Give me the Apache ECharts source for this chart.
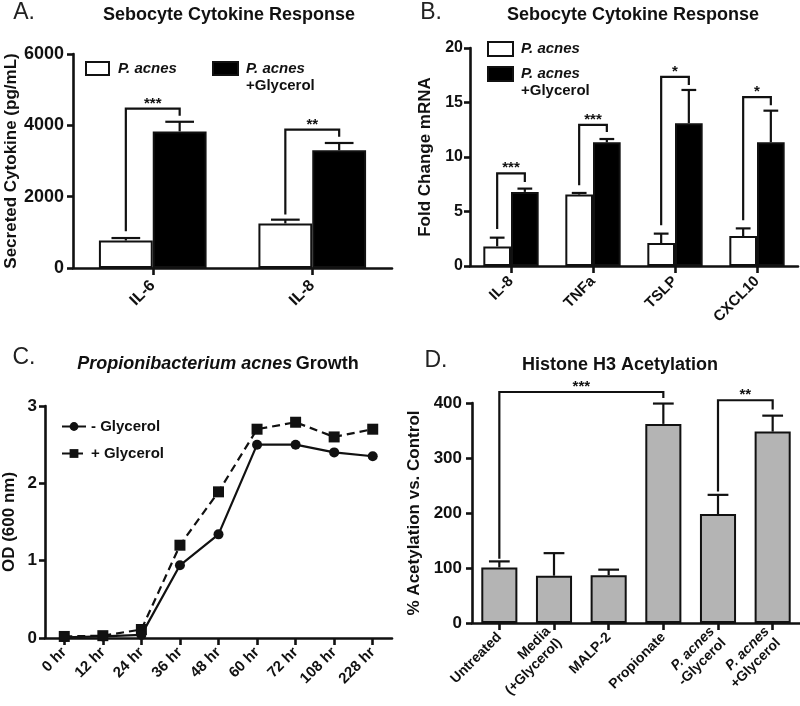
<!DOCTYPE html>
<html><head><meta charset="utf-8">
<script src="https://cdn.jsdelivr.net/npm/echarts@6/dist/echarts.min.js"></script>
<style>html,body{margin:0;padding:0;background:#fff}#c{width:800px;height:706px}</style>
</head><body><div id="c"></div>
<script>
// ---- Panel A ----
const aCats = ['IL-6', 'IL-8'];
const aPacnes = [770, 1250];
const aPacnesErr = [70, 105];
const aPacnesGly = [3830, 3300];
const aPacnesGlyErr = [270, 205];
const aBrackets = [[0, 1030, 4470, 4270], [1, 1500, 3880, 3680]];
const aStars = ['***', '**'];
const aTicks = { min: 0, max: 6000, interval: 2000 };
// ---- Panel B ----
const bCats = ['IL-8', 'TNFa', 'TSLP', 'CXCL10'];
const bPacnes = [1.8, 6.55, 2.1, 2.75];
const bPacnesErr = [0.8, 0.15, 0.87, 0.7];
const bPacnesGly = [6.8, 11.35, 13.1, 11.35];
const bPacnesGlyErr = [0.3, 0.3, 3.05, 2.9];
const bBrackets = [[0, 3.4, 8.5, 7.7], [1, 7.4, 12.95, 12.3], [2, 3.75, 17.35, 16.6], [3, 4.2, 15.5, 14.75]];
const bStars = ['***', '***', '*', '*'];
const bTicks = { min: 0, max: 20, interval: 5 };
// ---- Panel C ----
const cCats = ['0 hr', '12 hr', '24 hr', '36 hr', '48 hr', '60 hr', '72 hr', '108 hr', '228 hr'];
const cMinus = [0.01, 0.02, 0.04, 0.94, 1.34, 2.50, 2.50, 2.40, 2.35];
const cPlus = [0.02, 0.03, 0.11, 1.20, 1.89, 2.70, 2.79, 2.60, 2.70];
const cTicks = { min: 0, max: 3, interval: 1 };
// ---- Panel D ----
const dCats = ['Untreated', 'Media\n(+Glycerol)', 'MALP-2', 'Propionate', 'P. acnes\n-Glycerol', 'P. acnes\n+Glycerol'];
const dVals = [101, 86, 87, 362, 198, 348];
const dErr = [11, 41, 10, 37, 35, 29];
const dBrackets = [[0, 117, 420, 3, 409], [4, 239, 405, 5, 388]];
const dStars = ['***', '**'];
const dTicks = { min: 0, max: 400, interval: 100 };

const FONT = "'Liberation Sans', Arial, Helvetica, sans-serif";
const BLACK = '#111';
const AXW = 2.6;

function yAxisCfg(gi, ticks, name, nameGap, labelSize, margin) {
  return {
    gridIndex: gi, type: 'value', min: ticks.min, max: ticks.max, interval: ticks.interval,
    axisLine: { show: true, lineStyle: { color: BLACK, width: AXW } },
    axisTick: { show: true, length: 6, lineStyle: { color: BLACK, width: AXW } },
    splitLine: { show: false },
    axisLabel: { color: BLACK, fontFamily: FONT, fontWeight: 'bold', fontSize: labelSize, margin: margin,
      formatter: function (v) { return String(v); } },
    name: name, nameLocation: 'middle', nameGap: nameGap,
    nameTextStyle: { color: BLACK, fontFamily: FONT, fontWeight: 'bold', fontSize: 17 }
  };
}
function xAxisCfg(gi, cats, labelSize, margin, extraLabel) {
  return {
    gridIndex: gi, type: 'category', data: cats, boundaryGap: true,
    axisLine: { show: true, onZero: true, lineStyle: { color: BLACK, width: AXW } },
    axisTick: { show: true, alignWithLabel: true, length: 7, lineStyle: { color: BLACK, width: AXW } },
    axisLabel: Object.assign({ color: BLACK, fontFamily: FONT, fontWeight: 'bold', fontSize: labelSize, rotate: 45, margin: margin, interval: 0 }, extraLabel || {}),
    splitLine: { show: false }
  };
}

// error bar series: offsetFrac = bar-centre offset as fraction of band, capFrac = half cap width fraction
function errSeries(gi, vals, errs, offsetFrac, capFrac) {
  return {
    type: 'custom', xAxisIndex: gi, yAxisIndex: gi, z: 3, silent: true,
    data: vals.map((v, i) => [i, v, errs[i]]),
    renderItem: function (params, api) {
      const band = api.size([1, 0])[0];
      const c = api.coord([api.value(0), api.value(1)]);
      const t = api.coord([api.value(0), api.value(1) + api.value(2)]);
      const x = c[0] + band * offsetFrac;
      const h = band * capFrac;
      const st = { stroke: BLACK, lineWidth: 2.2, fill: null };
      return { type: 'group', children: [
        { type: 'line', shape: { x1: x, y1: c[1], x2: x, y2: t[1] }, style: st },
        { type: 'line', shape: { x1: x - h, y1: t[1], x2: x + h, y2: t[1] }, style: st }
      ] };
    }
  };
}
// bracket within one category (white bar centre to black bar centre)
function pairBrackets(gi, br, stars, frac) {
  return {
    type: 'custom', xAxisIndex: gi, yAxisIndex: gi, z: 4, silent: true,
    data: br,
    renderItem: function (params, api) {
      const band = api.size([1, 0])[0];
      const cat = api.value(0);
      const top = api.coord([cat, api.value(2)]);
      const yl = api.coord([cat, api.value(1)])[1];
      const yr = api.coord([cat, api.value(3)])[1];
      const xl = top[0] - band * frac, xr = top[0] + band * frac;
      return { type: 'group', children: [
        { type: 'polyline', shape: { points: [[xl, yl], [xl, top[1]], [xr, top[1]], [xr, yr]] },
          style: { stroke: BLACK, lineWidth: 2.2, fill: null } },
        { type: 'text', style: { text: stars[params.dataIndex], x: (xl + xr) / 2, y: top[1] - 5,
          align: 'center', verticalAlign: 'middle', fontFamily: FONT, fontWeight: 'bold', fontSize: 15, fill: BLACK } }
      ] };
    }
  };
}
function spanBrackets(gi, br, stars) {
  return {
    type: 'custom', xAxisIndex: gi, yAxisIndex: gi, z: 4, silent: true,
    data: br,
    renderItem: function (params, api) {
      const l = api.coord([api.value(0), api.value(1)]);
      const r = api.coord([api.value(3), api.value(4)]);
      const yt = api.coord([api.value(0), api.value(2)])[1];
      return { type: 'group', children: [
        { type: 'polyline', shape: { points: [[l[0], l[1]], [l[0], yt], [r[0], yt], [r[0], r[1]]] },
          style: { stroke: BLACK, lineWidth: 2.2, fill: null } },
        { type: 'text', style: { text: stars[params.dataIndex], x: (l[0] + r[0]) / 2, y: yt - 5,
          align: 'center', verticalAlign: 'middle', fontFamily: FONT, fontWeight: 'bold', fontSize: 15, fill: BLACK } }
      ] };
    }
  };
}

const legRich = {
  i: { fontFamily: FONT, fontStyle: 'italic', fontWeight: 'bold', fontSize: 15, lineHeight: 17, color: BLACK },
  n: { fontFamily: FONT, fontWeight: 'bold', fontSize: 15, lineHeight: 17, color: BLACK }
};
const legFmt = function (name) {
  return name === 'P. acnes' ? '{i|P. acnes}' : '{i|P. acnes}\n{n|+Glycerol}';
};
function barLegend(left, top, name, iw, ih, padL) {
  const d = name === 'P. acnes'
    ? { name: name, textStyle: { padding: [0, 0, 0, padL] } }
    : { name: name, textStyle: { padding: [17, 0, 0, padL] } };
  return {
    left: left, top: top, padding: 0, orient: 'horizontal', icon: 'rect', itemWidth: iw, itemHeight: ih, itemGap: 8,
    selectedMode: false, data: [d], formatter: legFmt, textStyle: { rich: legRich, padding: 0 }
  };
}

const titleFont = { fontFamily: FONT, fontWeight: 'bold', fontSize: 18, fill: BLACK };
function gText(x, y, text, font) {
  return { type: 'text', x: x, y: y, silent: true,
    style: Object.assign({ text: text, align: 'center', verticalAlign: 'middle' }, font) };
}
const letterFont = { fontFamily: FONT, fontWeight: 'normal', fontSize: 23, fill: '#222' };

const dRich = { i: { fontFamily: FONT, fontStyle: 'italic', fontWeight: 'bold', fontSize: 14, lineHeight: 16, color: BLACK } };

const option = {
  animation: false,
  backgroundColor: '#fff',
  textStyle: { fontFamily: FONT },
  grid: [
    { left: 73, top: 54, width: 319, height: 214 },
    { left: 470, top: 48, width: 328, height: 218 },
    { left: 44, top: 406, width: 348, height: 232 },
    { left: 472, top: 403, width: 328, height: 220 }
  ],
  xAxis: [
    xAxisCfg(0, aCats, 16, 15),
    xAxisCfg(1, bCats, 15, 13),
    xAxisCfg(2, cCats, 15, 12),
    xAxisCfg(3, dCats, 14, 12, { lineHeight: 16,
      formatter: function (v) { return v.replace('P. acnes', '{i|P. acnes}'); }, rich: dRich })
  ],
  yAxis: [
    yAxisCfg(0, aTicks, 'Secreted Cytokine (pg/mL)', 53, 18, 9),
    yAxisCfg(1, bTicks, 'Fold Change mRNA', 36, 16, 7),
    yAxisCfg(2, cTicks, 'OD (600 nm)', 27, 17, 8),
    yAxisCfg(3, dTicks, '% Acetylation vs. Control', 49, 17, 10)
  ],
  legend: [
    barLegend(85, 61, 'P. acnes', 23, 13, 4),
    barLegend(212, 61, 'P. acnes +Glycerol', 25, 13, 3),
    barLegend(487, 41, 'P. acnes', 25, 14, 3),
    barLegend(487, 66, 'P. acnes +Glycerol', 25, 14, 3),
    { left: 61, top: 419, padding: 0, orient: 'vertical', itemWidth: 24, itemHeight: 11, itemGap: 12, selectedMode: false,
      data: ['- Glycerol', '+ Glycerol'],
      textStyle: { fontFamily: FONT, fontWeight: 'bold', fontSize: 15, color: BLACK } }
  ],
  series: [
    // A
    { name: 'P. acnes', type: 'bar', xAxisIndex: 0, yAxisIndex: 0, data: aPacnes, barWidth: '33.75%', barGap: '0%',
      itemStyle: { color: '#fff', borderColor: BLACK, borderWidth: 2 } },
    { name: 'P. acnes +Glycerol', type: 'bar', xAxisIndex: 0, yAxisIndex: 0, data: aPacnesGly, barWidth: '33.75%', barGap: '0%',
      itemStyle: { color: '#000', borderColor: BLACK, borderWidth: 2 } },
    errSeries(0, aPacnes, aPacnesErr, -0.16875, 0.09),
    errSeries(0, aPacnesGly, aPacnesGlyErr, 0.16875, 0.09),
    pairBrackets(0, aBrackets, aStars, 0.16875),
    // B
    { name: 'P. acnes', type: 'bar', xAxisIndex: 1, yAxisIndex: 1, data: bPacnes, barWidth: '33.75%', barGap: '0%',
      itemStyle: { color: '#fff', borderColor: BLACK, borderWidth: 2 } },
    { name: 'P. acnes +Glycerol', type: 'bar', xAxisIndex: 1, yAxisIndex: 1, data: bPacnesGly, barWidth: '33.75%', barGap: '0%',
      itemStyle: { color: '#000', borderColor: BLACK, borderWidth: 2 } },
    errSeries(1, bPacnes, bPacnesErr, -0.16875, 0.09),
    errSeries(1, bPacnesGly, bPacnesGlyErr, 0.16875, 0.09),
    pairBrackets(1, bBrackets, bStars, 0.16875),
    // C
    { name: '- Glycerol', type: 'line', xAxisIndex: 2, yAxisIndex: 2, data: cMinus, symbol: 'circle', symbolSize: 10,
      itemStyle: { color: BLACK }, lineStyle: { color: BLACK, width: 2.2 }, z: 3 },
    { name: '+ Glycerol', type: 'line', xAxisIndex: 2, yAxisIndex: 2, data: cPlus, symbol: 'rect', symbolSize: 11,
      itemStyle: { color: BLACK }, lineStyle: { color: BLACK, width: 2.2, type: [8, 5] }, z: 2 },
    // D
    { name: 'Acetylation', type: 'bar', xAxisIndex: 3, yAxisIndex: 3, data: dVals, barWidth: '66%',
      itemStyle: { color: '#b4b4b4', borderColor: BLACK, borderWidth: 2 } },
    errSeries(3, dVals, dErr, 0, 0.19),
    spanBrackets(3, dBrackets, dStars)
  ],
  graphic: [
    gText(24, 13, 'A.', letterFont),
    gText(431, 13, 'B.', letterFont),
    gText(24, 358, 'C.', letterFont),
    gText(436, 361, 'D.', letterFont),
    gText(229, 15, 'Sebocyte Cytokine Response', titleFont),
    gText(633, 15, 'Sebocyte Cytokine Response', titleFont),
    gText(620, 365, 'Histone H3 Acetylation', titleFont),
    { type: 'text', x: 218, y: 364, silent: true,
      style: { text: '{i|Propionibacterium acnes} {b|Growth}', align: 'center', verticalAlign: 'middle',
        rich: { i: { fontFamily: FONT, fontStyle: 'italic', fontWeight: 'bold', fontSize: 18, fill: BLACK },
                b: { fontFamily: FONT, fontWeight: 'bold', fontSize: 18, fill: BLACK } } } }
  ]
};

const chart = echarts.init(document.getElementById('c'), null, { renderer: 'canvas' });
chart.setOption(option);
</script>
</body></html>
